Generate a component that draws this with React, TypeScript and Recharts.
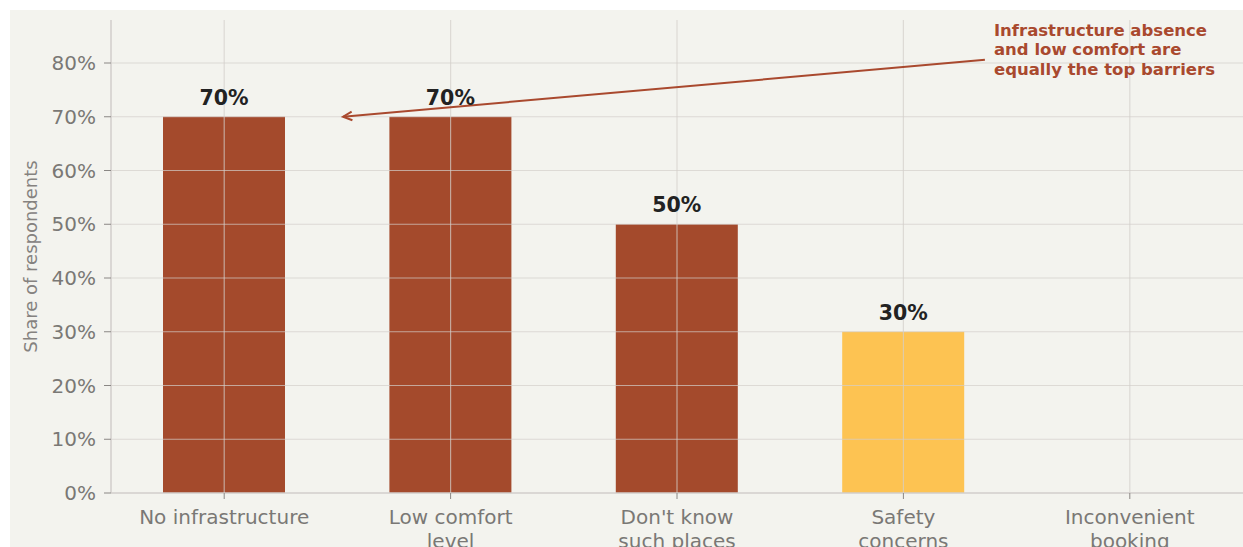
import {
  BarChart,
  Bar,
  Cell,
  LabelList,
  ReferenceDot,
  ReferenceLine,
  XAxis,
  YAxis,
} from 'recharts';

const categories = [
  'No infrastructure',
  'Low comfort\nlevel',
  "Don't know\nsuch places",
  'Safety\nconcerns',
  'Inconvenient\nbooking',
];
const shares = [0.7, 0.7, 0.5, 0.3, 0];
const barColors = ['#a44a2c', '#a44a2c', '#a44a2c', '#fdc352', '#fdc352'];
const categoryTicks = [0, 1, 2, 3, 4];
const yTicks = [0, 0.1, 0.2, 0.3, 0.4, 0.5, 0.6, 0.7, 0.8];

const annotationLines = [
  'Infrastructure absence',
  'and low comfort are',
  'equally the top barriers',
];
const arrowTail = { x: 3.36, y: 0.806 };
const arrowTip = { x: 0.525, y: 0.7 };
const annotationAnchor = { x: 3.4, y: 0.861 };

const data = categories.map((name, index) => ({ index, name, share: shares[index] }));

const FONT = '"DejaVu Sans", sans-serif';
const RUST = '#a9492e';
// light grid drawn over the bars, as in the original
const GRID = { stroke: '#d3cfcb', strokeOpacity: 0.7, strokeWidth: 1.2 };

const pct = (value: number) => `${Math.round(value * 100)}%`;

function CategoryTick({ x, y, payload }: any) {
  const lines = (categories[payload.value] ?? '').split('\n');
  return (
    <text x={x} y={y} textAnchor="middle" fill="#7a7875" fontSize={20} fontFamily={FONT}>
      {lines.map((line, i) => (
        <tspan key={i} x={x} dy={i === 0 ? 25 : 24}>
          {line}
        </tspan>
      ))}
    </text>
  );
}

function Arrow({ x1, y1, x2, y2 }: any) {
  const angle = Math.atan2(y2 - y1, x2 - x1);
  const head = 10;
  const spread = 0.45;
  const ax = x2 - head * Math.cos(angle - spread);
  const ay = y2 - head * Math.sin(angle - spread);
  const bx = x2 - head * Math.cos(angle + spread);
  const by = y2 - head * Math.sin(angle + spread);
  return (
    <g>
      <line x1={x1} y1={y1} x2={x2} y2={y2} stroke={RUST} strokeWidth={2} />
      <polyline
        points={`${ax},${ay} ${x2},${y2} ${bx},${by}`}
        fill="none"
        stroke={RUST}
        strokeWidth={2}
      />
    </g>
  );
}

function AnnotationText({ cx, cy }: any) {
  return (
    <text x={cx} y={cy} fill={RUST} fontSize={16.5} fontWeight="bold" fontFamily={FONT}>
      {annotationLines.map((line, i) => (
        <tspan key={i} x={cx} dy={i === 0 ? 6 : 19.2}>
          {line}
        </tspan>
      ))}
    </text>
  );
}

function BarValue({ x, y, width, value }: any) {
  if (!value) return null;
  return (
    <text
      x={x + width / 2}
      y={y - 12}
      textAnchor="middle"
      fill="#222"
      fontSize={20.5}
      fontWeight="bold"
      fontFamily={FONT}
    >
      {pct(value)}
    </text>
  );
}

export default function App() {
  return (
    <div
      style={{
        position: 'absolute',
        left: 10,
        top: 10,
        width: 1233,
        height: 600,
        background: '#f3f3ee',
        fontFamily: FONT,
      }}
    >
      <BarChart
        width={1233}
        height={580}
        data={data}
        margin={{ top: 10, right: 0, bottom: 0, left: 0 }}
      >
        <XAxis
          dataKey="index"
          type="number"
          domain={[-0.5, 4.5]}
          ticks={categoryTicks}
          height={97}
          tick={<CategoryTick />}
          tickSize={6}
          tickMargin={0}
          tickLine={{ stroke: '#8a8784' }}
          axisLine={{ stroke: '#d2cecb', strokeWidth: 1.5 }}
          allowDataOverflow
        />
        <YAxis
          type="number"
          domain={[0, 0.88]}
          ticks={yTicks}
          tickFormatter={pct}
          width={101}
          tickSize={7}
          tickMargin={8}
          tick={{ fill: '#7a7875', fontSize: 20, fontFamily: FONT }}
          tickLine={{ stroke: '#8a8784' }}
          axisLine={{ stroke: '#d2cecb', strokeWidth: 1.5 }}
          allowDataOverflow
          label={{
            content: ({ viewBox }: any) => {
              const cx = viewBox.x + 27;
              const cy = viewBox.y + viewBox.height / 2;
              return (
                <text
                  x={cx}
                  y={cy}
                  transform={`rotate(-90 ${cx} ${cy})`}
                  textAnchor="middle"
                  fill="#85827f"
                  fontSize={18}
                  fontFamily={FONT}
                >
                  Share of respondents
                </text>
              );
            },
          }}
        />
        <Bar dataKey="share" barSize={122} isAnimationActive={false}>
          {data.map((entry, i) => (
            <Cell key={entry.name} fill={barColors[i]} />
          ))}
          <LabelList dataKey="share" content={<BarValue />} />
        </Bar>
        {yTicks.slice(1).map((t) => (
          <ReferenceLine key={`h${t}`} y={t} {...GRID} />
        ))}
        {categoryTicks.map((t) => (
          <ReferenceLine key={`v${t}`} x={t} {...GRID} />
        ))}
        <ReferenceLine
          segment={[arrowTail, arrowTip]}
          ifOverflow="visible"
          shape={(props: any) => <Arrow {...props} />}
        />
        <ReferenceDot
          x={annotationAnchor.x}
          y={annotationAnchor.y}
          r={0}
          ifOverflow="visible"
          shape={(props: any) => <AnnotationText {...props} />}
        />
      </BarChart>
    </div>
  );
}
